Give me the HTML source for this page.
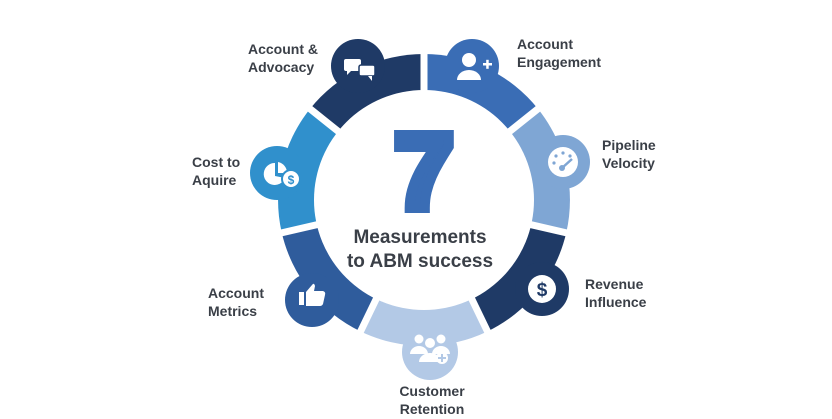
<!DOCTYPE html>
<html><head><meta charset="utf-8"><style>
html,body{margin:0;padding:0;background:#fff;}
svg{display:block;}
text{font-family:"Liberation Sans",sans-serif;font-weight:bold;fill:#3a3f47;}
</style></head><body>
<svg width="832" height="419" viewBox="0 0 832 419" xmlns="http://www.w3.org/2000/svg">
<g>
<path d="M424,200 L424,54 A146,146 0 0 1 538.1,109 Z" fill="#3a6db5"/>
<path d="M424,200 L538.1,109 A146,146 0 0 1 566.3,232.5 Z" fill="#7fa6d4"/>
<path d="M424,200 L566.3,232.5 A146,146 0 0 1 487.3,331.5 Z" fill="#1f3a66"/>
<path d="M424,200 L487.3,331.5 A146,146 0 0 1 360.7,331.5 Z" fill="#b3c9e6"/>
<path d="M424,200 L360.7,331.5 A146,146 0 0 1 281.7,232.5 Z" fill="#2f5c9c"/>
<path d="M424,200 L281.7,232.5 A146,146 0 0 1 309.9,109 Z" fill="#3090cc"/>
<path d="M424,200 L309.9,109 A146,146 0 0 1 424,54 Z" fill="#1f3a66"/>
</g>
<circle cx="472" cy="66" r="27" fill="#3a6db5"/>
<circle cx="563" cy="162" r="27" fill="#7fa6d4"/>
<circle cx="542" cy="289" r="27" fill="#1f3a66"/>
<circle cx="430" cy="352" r="28" fill="#b3c9e6"/>
<circle cx="312" cy="300" r="27" fill="#2f5c9c"/>
<circle cx="277" cy="173" r="27" fill="#3090cc"/>
<circle cx="358" cy="66" r="27" fill="#1f3a66"/>
<g stroke="#fff" stroke-width="7">
<line x1="424" y1="200" x2="424" y2="40"/>
<line x1="424" y1="200" x2="549" y2="100"/>
<line x1="424" y1="200" x2="580" y2="236"/>
<line x1="424" y1="200" x2="494" y2="345"/>
<line x1="424" y1="200" x2="354" y2="345"/>
<line x1="424" y1="200" x2="268" y2="236"/>
<line x1="424" y1="200" x2="299" y2="100"/>
</g>
<circle cx="424" cy="200" r="110" fill="#fff"/>
<g fill="#fff">
 <circle cx="469" cy="60" r="7"/>
 <path d="M457,80 a12,10 0 0 1 24,0 z"/>
 <rect x="483" y="63" width="9" height="2.5"/><rect x="486.2" y="59.8" width="2.5" height="9"/>
 <circle cx="563" cy="162" r="15"/>
 <g fill="#7fa6d4"><circle cx="556" cy="156" r="1.6"/><circle cx="563" cy="153" r="1.6"/><circle cx="570" cy="156" r="1.6"/><circle cx="554" cy="163" r="1.6"/><circle cx="562" cy="168" r="3"/></g>
 <line x1="562" y1="168" x2="572" y2="159" stroke="#7fa6d4" stroke-width="2.5"/>
 <circle cx="542" cy="289" r="14"/>
 <text x="542" y="296" text-anchor="middle" font-size="19" style="fill:#1f3a66">$</text>
 <circle cx="419" cy="339" r="4.5"/><circle cx="441" cy="339" r="4.5"/><circle cx="430" cy="343" r="5"/>
 <path d="M410,354 a9,8 0 0 1 18,0z M432,354 a9,8 0 0 1 18,0z M419,362 a11,9 0 0 1 22,0z"/>
 <circle cx="442" cy="358" r="6"/>
 <g fill="#b3c9e6"><rect x="438" y="357" width="8" height="2"/><rect x="441" y="354" width="2" height="8"/></g>
 <rect x="299" y="292" width="5" height="13"/>
 <path d="M306,292 L312,285 Q314,282 315,286 L314,291 L323,291 Q326,292 325,295 L323,304 Q322,306 320,306 L306,306 Z"/>
 <path d="M275,163 A11,11 0 1 0 285,178 L275,176 Z"/>
 <path d="M278,162 A11,11 0 0 1 287,173 L278,173 Z"/>
 <circle cx="291" cy="179" r="9" fill="#fff" stroke="#3090cc" stroke-width="2"/>
 <text x="291" y="184" text-anchor="middle" font-size="12" style="fill:#3090cc">$</text>
 <rect x="344" y="59" width="17" height="12" rx="2"/><path d="M347,70 l0,5 l5,-5z"/>
 <rect x="359" y="65" width="16" height="11" rx="2" stroke="#1f3a66" stroke-width="1.5"/><path d="M368,76 l4,5 l0,-5z"/>
</g>
<text x="424" y="208" text-anchor="middle" font-size="106" style="fill:#3a6db5;stroke:#3a6db5;stroke-width:10;stroke-linejoin:miter">7</text>
<text x="420" y="243" text-anchor="middle" font-size="19">Measurements</text>
<text x="420" y="267" text-anchor="middle" font-size="19">to ABM success</text>
<g font-size="14">
<text x="248" y="54">Account &amp;</text><text x="248" y="72">Advocacy</text>
<text x="517" y="49">Account</text><text x="517" y="67">Engagement</text>
<text x="602" y="150">Pipeline</text><text x="602" y="168">Velocity</text>
<text x="585" y="289">Revenue</text><text x="585" y="307">Influence</text>
<text x="432" y="396" text-anchor="middle">Customer</text><text x="432" y="414" text-anchor="middle">Retention</text>
<text x="208" y="298">Account</text><text x="208" y="316">Metrics</text>
<text x="192" y="167">Cost to</text><text x="192" y="185">Aquire</text>
</g>
</svg>
</body></html>
